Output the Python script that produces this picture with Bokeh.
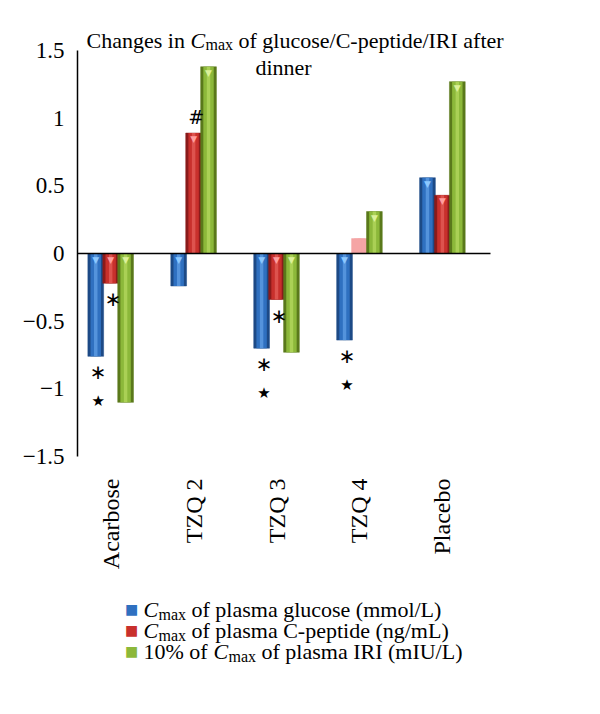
import math
from bokeh.plotting import figure
from bokeh.models import Range1d, FixedTicker, Label, ColumnDataSource, LinearAxis
from bokeh.embed import file_html
from bokeh.resources import INLINE
from bokeh.core.properties import value

# ---------------- data ----------------
categories = ["Acarbose", "TZQ 2", "TZQ 3", "TZQ 4", "Placebo"]
glucose = [-0.76, -0.24, -0.70, -0.64, 0.56]      # Cmax plasma glucose (mmol/L)
cpeptide = [-0.22, 0.89, -0.34, 0.11, 0.43]       # Cmax plasma C-peptide (ng/mL)
iri10 = [-1.10, 1.38, -0.73, 0.31, 1.27]          # 10% of Cmax plasma IRI (mIU/L)
cpeptide_faded = [False, False, False, True, False]

y_ticks = [-1.5, -1.0, -0.5, 0.0, 0.5, 1.0, 1.5]
y_tick_labels = ["\u22121.5", "\u22121", "\u22120.5", "0", "0.5", "1", "1.5"]

# significance marks
mark_cat = [0, 0, 0, 1, 2, 2, 2, 3, 3]
mark_series = ["glucose", "glucose", "cpeptide", "cpeptide", "glucose", "glucose",
               "cpeptide", "glucose", "glucose"]
mark_symbol = ["\u2217", "\u2605", "\u2217", "#", "\u2217", "\u2605", "\u2217", "\u2217", "\u2605"]
mark_rank = [1, 2, 1, 1, 1, 2, 1, 1, 2]

# ---------------- styles ----------------
SERIF = "Liberation Serif"
series = {
    "glucose": dict(vals=glucose, off=-0.18, dark="#1d4a86", main="#2f70c0", light="#5e9ce2", tri="#8cc8ff"),
    "cpeptide": dict(vals=cpeptide, off=0.0, dark="#8a1b1b", main="#c8302c", light="#e25c57", tri="#ff9e9e"),
    "iri": dict(vals=iri10, off=0.18, dark="#5a791b", main="#8cb83a", light="#b2d65c", tri="#dcf19a"),
}
PINK = "#f5a5a5"
BW = 0.19

W, H = 584, 698
AX0, AX1, AY0, AY1 = -0.4, 4.58, -1.5, 1.5       # data extent of the axes box
FL, FR, FT, FB = 77, 490, 50, 456                 # axes box in page pixels


def px2x(px):
    return AX0 + (px - FL) * (AX1 - AX0) / (FR - FL)


def py2y(py):
    return AY1 - (py - FT) * (AY1 - AY0) / (FB - FT)


p = figure(width=W, height=H, output_backend="svg", toolbar_location=None,
           x_range=Range1d(px2x(0), px2x(W)), y_range=Range1d(py2y(H), py2y(0)),
           x_axis_location=None, y_axis_location=None,
           min_border=0, min_border_left=0, min_border_right=0, min_border_top=0, min_border_bottom=0)
p.outline_line_color = None
p.background_fill_color = "white"
p.border_fill_color = "white"
p.xgrid.visible = False
p.ygrid.visible = False

# y axis (fixed at the left edge of the axes box)
yax = LinearAxis(fixed_location=AX0, bounds=(AY0, AY1), ticker=FixedTicker(ticks=y_ticks))
yax.major_label_overrides = {t: l for t, l in zip(y_ticks, y_tick_labels)}
yax.major_tick_line_color = None
yax.minor_tick_line_color = None
yax.major_tick_out = 0
yax.major_tick_in = 0
yax.axis_line_color = "black"
yax.axis_line_width = 1.5
yax.major_label_standoff = 13
yax.major_label_text_font = SERIF
yax.major_label_text_font_size = "23px"
yax.major_label_text_color = "black"
p.add_layout(yax, "left")

# x axis (category labels at bottom, vertical)
idx = list(range(len(categories)))
xax = LinearAxis(fixed_location=AY0, ticker=FixedTicker(ticks=idx))
xax.major_label_overrides = {i: c for i, c in zip(idx, categories)}
xax.major_label_orientation = math.pi / 2
xax.axis_line_color = None
xax.major_tick_line_color = None
xax.minor_tick_line_color = None
xax.major_tick_out = 0
xax.major_tick_in = 0
xax.major_label_standoff = 22
xax.major_label_text_font = SERIF
xax.major_label_text_font_size = "24px"
xax.major_label_text_color = "black"
p.add_layout(xax, "below")

# bars
for key, s in series.items():
    xs = [i + s["off"] for i in idx]
    vals = s["vals"]
    faded = cpeptide_faded if key == "cpeptide" else [False] * len(vals)
    dark = [PINK if f else s["dark"] for f in faded]
    main = [PINK if f else s["main"] for f in faded]
    light = [PINK if f else s["light"] for f in faded]
    src = ColumnDataSource(dict(x=xs, top=vals, dark=dark, main=main, light=light))
    p.vbar(x="x", top="top", bottom=0, width=BW, source=src, fill_color="dark", line_color="dark", line_width=0.5)
    p.vbar(x="x", top="top", bottom=0, width=BW * 0.66, source=src, fill_color="main", line_color=None)
    p.vbar(x="x", top="top", bottom=0, width=BW * 0.22, source=src, fill_color="light", line_color=None, fill_alpha=0.8)
    tx = [x for x, f in zip(xs, faded) if not f]
    ty = [max(v, 0) for v, f in zip(vals, faded) if not f]
    p.text(x=tx, y=ty, text=["\u25bc"] * len(tx), text_align="center", text_baseline="top",
           text_font=value("DejaVu Sans"), text_font_size="9px", text_color=s["tri"], y_offset=1)

# zero line across the axes box
p.segment(x0=[AX0], y0=[0], x1=[AX1], y1=[0], line_color="black", line_width=1.5)

# significance marks
mx, my, moff, msz = [], [], [], []
for c, sr, r, sym in zip(mark_cat, mark_series, mark_rank, mark_symbol):
    v = series[sr]["vals"][c]
    mx.append(c + series[sr]["off"] + 0.03)
    my.append(v)
    d = 16 if r == 1 else 45
    moff.append(d if v < 0 else -d)
    msz.append("15px" if sym == "\u2605" else ("19px" if sym == "#" else "20px"))
msrc = ColumnDataSource(dict(x=mx, y=my, t=mark_symbol, o=moff, s=msz))
p.text(x="x", y="y", text="t", y_offset="o", source=msrc, text_align="center", text_baseline="middle",
       text_font=value("DejaVu Sans"), text_font_size="s", text_color="black")


def lab(text, px, py, size, align="left", style="normal", color="black", font=SERIF):
    p.add_layout(Label(x=px2x(px), y=py2y(py), text=text, text_align=align, text_baseline="alphabetic",
                       text_font=font, text_font_size=size, text_font_style=style, text_color=color))


# title
lab("Changes in", 86, 40, "22px")
lab("C", 190, 40, "22px", style="italic")
lab("max", 205, 44, "16px")
lab("of glucose/C-peptide/IRI after", 238, 40, "22px")
lab("dinner", 283, 67, "22px", align="center")

# legend
leg_rows = [609, 630, 651]
sq_cols = [series["glucose"]["main"], series["cpeptide"]["main"], series["iri"]["main"]]
for py, col in zip(leg_rows, sq_cols):
    lab("\u25a0", 131, py - 1, "14px", align="center", color=col, font="DejaVu Sans")
lab("C", 143, leg_rows[0], "22px", style="italic")
lab("max", 158, leg_rows[0] + 5, "16px")
lab("of plasma glucose (mmol/L)", 191, leg_rows[0], "22px")
lab("C", 143, leg_rows[1], "22px", style="italic")
lab("max", 158, leg_rows[1] + 5, "16px")
lab("of plasma C-peptide (ng/mL)", 191, leg_rows[1], "22px")
lab("10% of", 143, leg_rows[2], "22px")
lab("C", 213, leg_rows[2], "22px", style="italic")
lab("max", 228, leg_rows[2] + 5, "16px")
lab("of plasma IRI (mIU/L)", 261, leg_rows[2], "22px")

open("out.html", "w").write(file_html(p, INLINE))
